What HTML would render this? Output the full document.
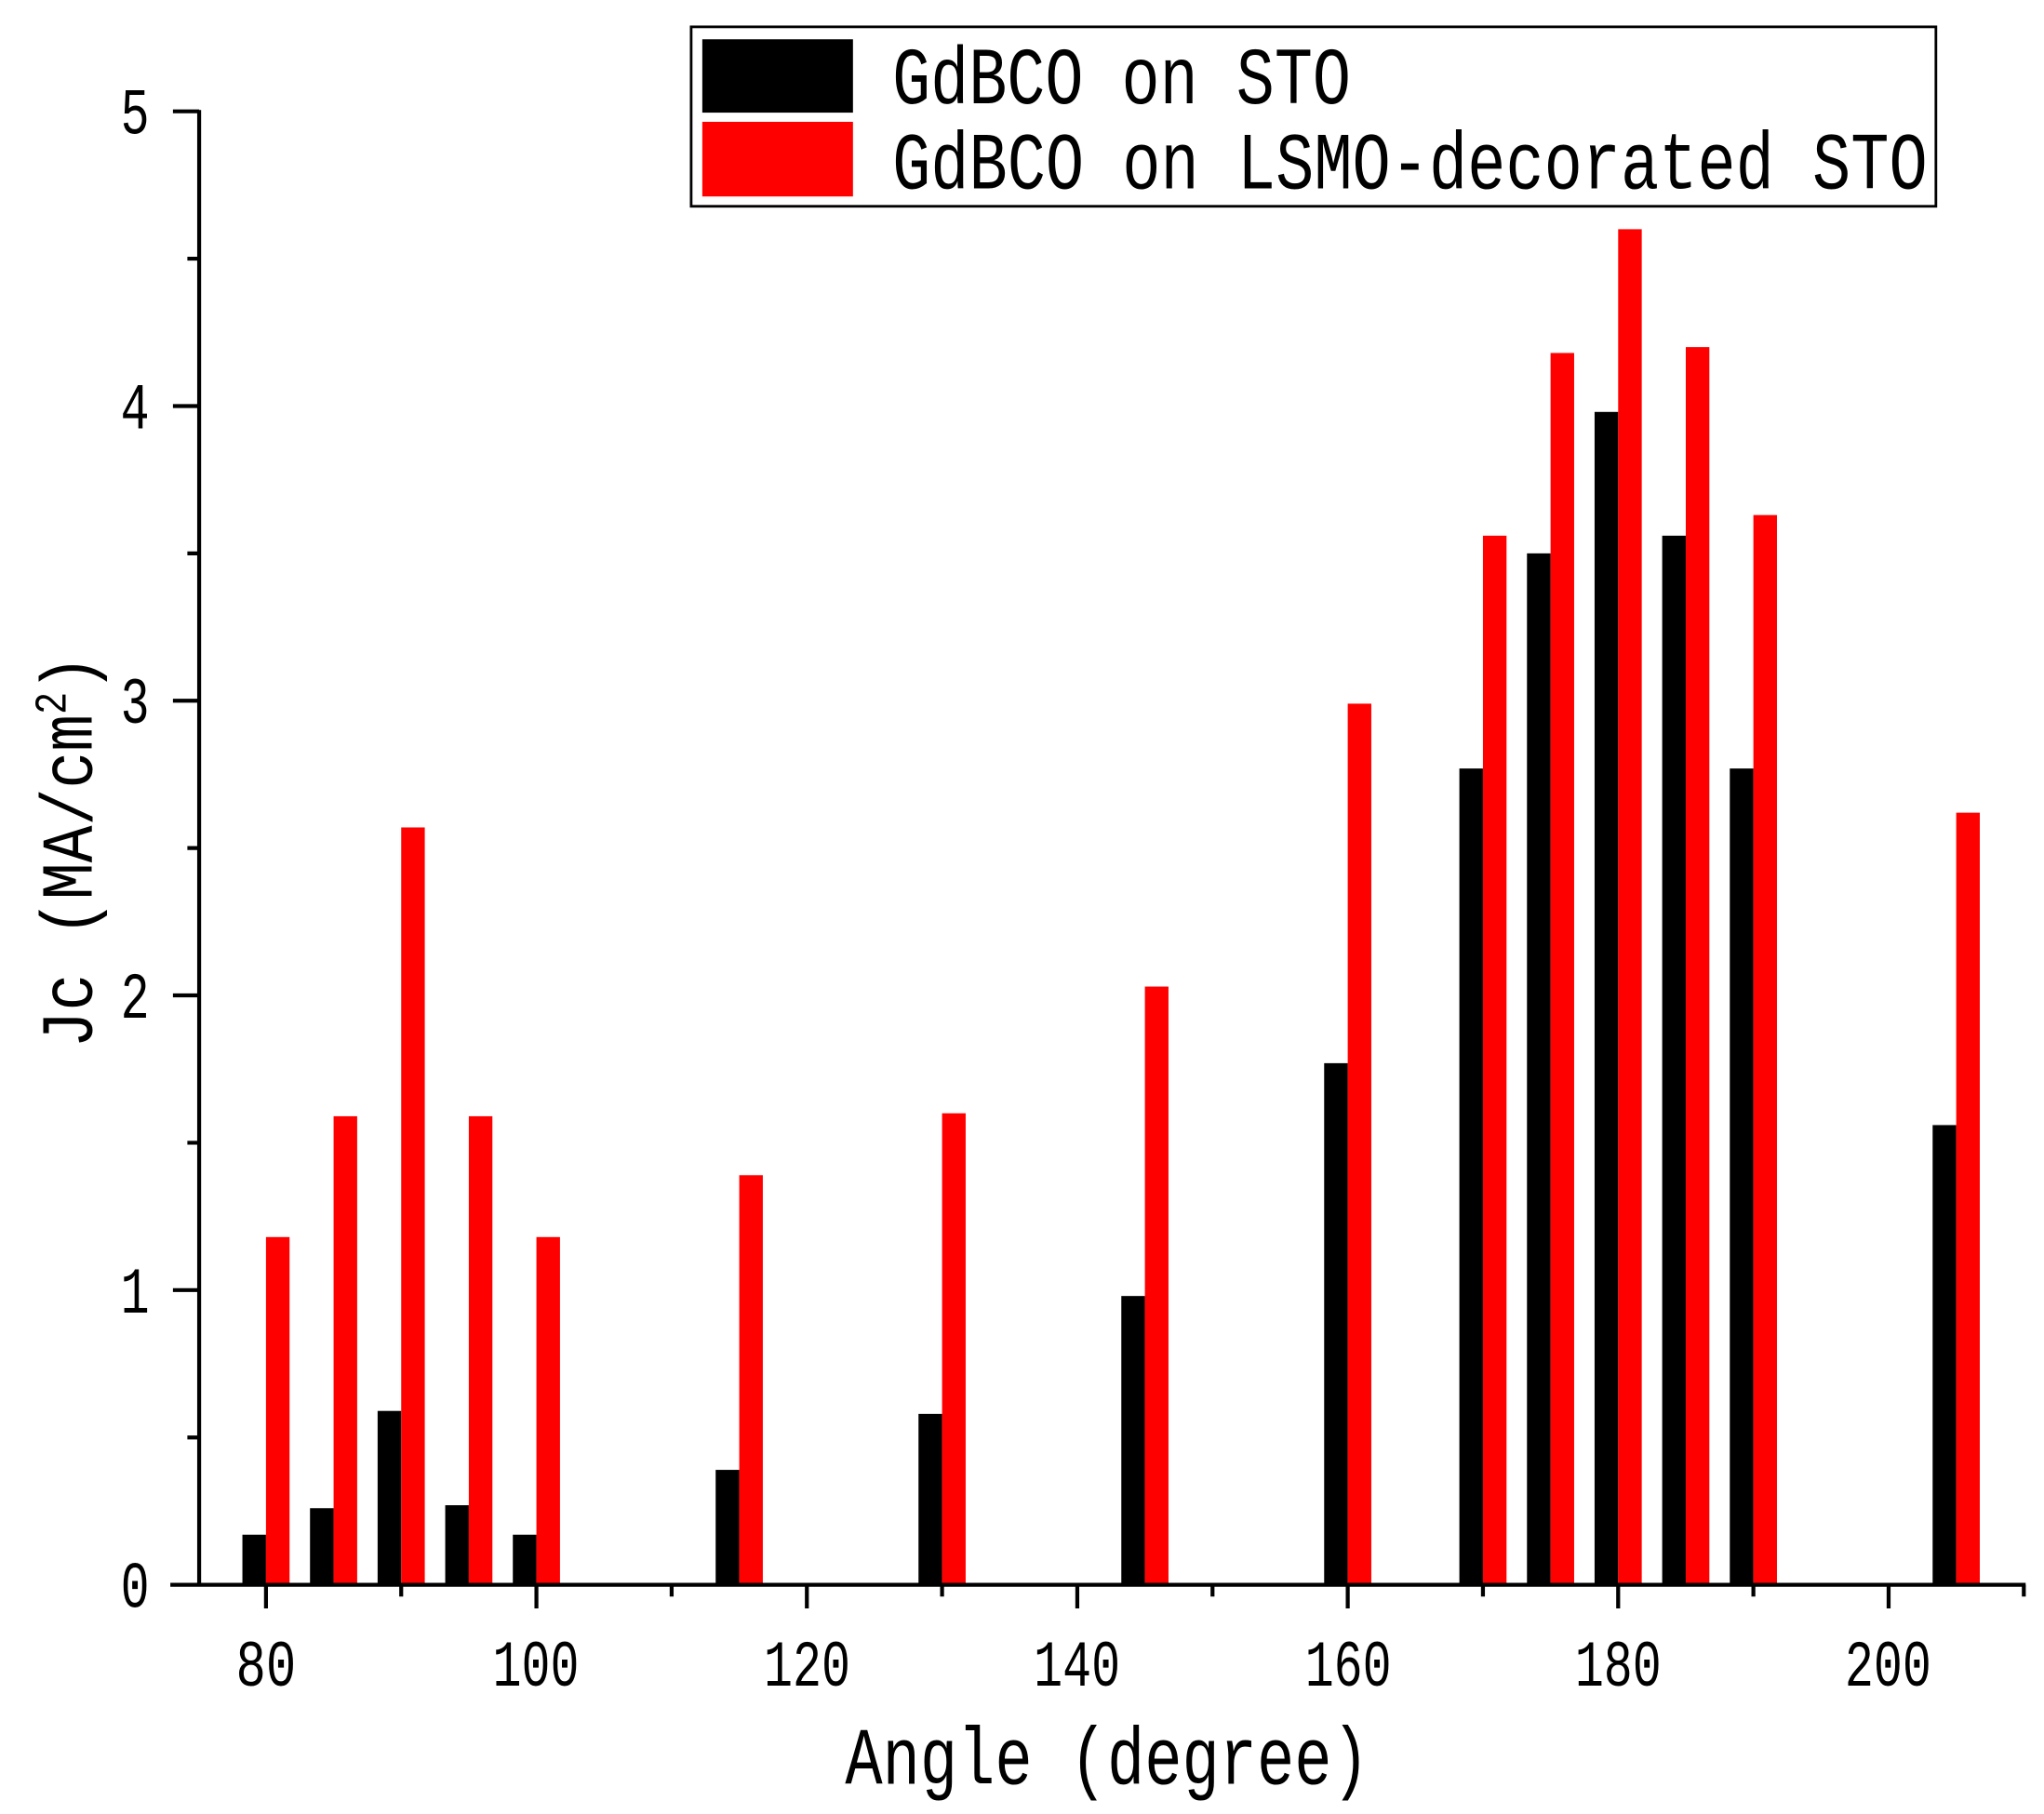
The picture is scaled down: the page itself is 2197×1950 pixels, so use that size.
<!DOCTYPE html>
<html><head><meta charset="utf-8"><style>html,body{margin:0;padding:0;background:#fff}svg{display:block}</style></head>
<body>
<svg width="2197" height="1950" viewBox="0 0 1560 1385" preserveAspectRatio="none" xmlns="http://www.w3.org/2000/svg" font-family="Liberation Mono, monospace">
<g transform="translate(0,1210) scale(1,-1)">
<g fill="#000">
<rect x="185" y="0" width="18" height="38.25"/>
<rect x="236.6" y="0" width="18" height="58.5"/>
<rect x="288.2" y="0" width="18" height="132.75"/>
<rect x="339.8" y="0" width="18" height="60.75"/>
<rect x="391.4" y="0" width="18" height="38.25"/>
<rect x="546.2" y="0" width="18" height="87.75"/>
<rect x="701" y="0" width="18" height="130.5"/>
<rect x="855.8" y="0" width="18" height="220.5"/>
<rect x="1010.6" y="0" width="18" height="398.25"/>
<rect x="1113.8" y="0" width="18" height="623.25"/>
<rect x="1165.4" y="0" width="18" height="787.5"/>
<rect x="1217" y="0" width="18" height="895.5"/>
<rect x="1268.6" y="0" width="18" height="801"/>
<rect x="1320.2" y="0" width="18" height="623.25"/>
<rect x="1475" y="0" width="18" height="351"/>
</g>
<g fill="#f00">
<rect x="203" y="0" width="18" height="265.5"/>
<rect x="254.6" y="0" width="18" height="357.75"/>
<rect x="306.2" y="0" width="18" height="578.25"/>
<rect x="357.8" y="0" width="18" height="357.75"/>
<rect x="409.4" y="0" width="18" height="265.5"/>
<rect x="564.2" y="0" width="18" height="312.75"/>
<rect x="719" y="0" width="18" height="360"/>
<rect x="873.8" y="0" width="18" height="456.75"/>
<rect x="1028.6" y="0" width="18" height="672.75"/>
<rect x="1131.8" y="0" width="18" height="801"/>
<rect x="1183.4" y="0" width="18" height="940.5"/>
<rect x="1235" y="0" width="18" height="1035"/>
<rect x="1286.6" y="0" width="18" height="945"/>
<rect x="1338.2" y="0" width="18" height="816.75"/>
<rect x="1493" y="0" width="18" height="589.5"/>
</g>
</g>
<g stroke="#000" stroke-width="3" fill="none">
<line x1="130" y1="1210" x2="1546" y2="1210"/>
<line x1="152" y1="84" x2="152" y2="1210"/>
<path d="M203 1210V1228M409.4 1210V1228M615.8 1210V1228M822.2 1210V1228M1028.6 1210V1228M1235 1210V1228M1441.4 1210V1228"/>
<path d="M306.2 1210V1219M512.6 1210V1219M719 1210V1219M925.4 1210V1219M1131.8 1210V1219M1338.2 1210V1219M1544.6 1210V1219"/>
<path d="M132 85H152M132 310H152M132 535H152M132 760H152M132 985H152"/>
<path d="M143 197.5H152M143 422.5H152M143 647.5H152M143 872.5H152M143 1097.5H152"/>
</g>
<g font-size="50" text-anchor="middle" fill="#000">
<text x="203" y="1287" textLength="46" lengthAdjust="spacingAndGlyphs">80</text>
<text x="409" y="1287" textLength="66" lengthAdjust="spacingAndGlyphs">100</text>
<text x="616" y="1287" textLength="66" lengthAdjust="spacingAndGlyphs">120</text>
<text x="822" y="1287" textLength="66" lengthAdjust="spacingAndGlyphs">140</text>
<text x="1029" y="1287" textLength="66" lengthAdjust="spacingAndGlyphs">160</text>
<text x="1235" y="1287" textLength="66" lengthAdjust="spacingAndGlyphs">180</text>
<text x="1441" y="1287" textLength="66" lengthAdjust="spacingAndGlyphs">200</text>
<text x="103" y="1227" textLength="22" lengthAdjust="spacingAndGlyphs">0</text>
<text x="103" y="1002" textLength="22" lengthAdjust="spacingAndGlyphs">1</text>
<text x="103" y="777" textLength="22" lengthAdjust="spacingAndGlyphs">2</text>
<text x="103" y="552" textLength="22" lengthAdjust="spacingAndGlyphs">3</text>
<text x="103" y="327" textLength="22" lengthAdjust="spacingAndGlyphs">4</text>
<text x="103" y="102" textLength="22" lengthAdjust="spacingAndGlyphs">5</text>
</g>
<text x="645" y="1362" font-size="62" textLength="400" lengthAdjust="spacingAndGlyphs">Angle (degree)</text>
<text transform="translate(70,800) rotate(-90)" font-size="56" textLength="300" lengthAdjust="spacingAndGlyphs">Jc (MA/cm<tspan font-size="34" dy="-20">2</tspan><tspan dy="20">)</tspan></text>
<rect x="527.5" y="20.5" width="950" height="137" fill="#fff" stroke="#000" stroke-width="2"/>
<rect x="536" y="30" width="115" height="56" fill="#000"/>
<rect x="536" y="93" width="115" height="57" fill="#f00"/>
<text x="681" y="79" font-size="62" textLength="350" lengthAdjust="spacingAndGlyphs">GdBCO on STO</text>
<text x="681" y="144" font-size="62" textLength="790" lengthAdjust="spacingAndGlyphs">GdBCO on LSMO-decorated STO</text>
</svg>
</body></html>
